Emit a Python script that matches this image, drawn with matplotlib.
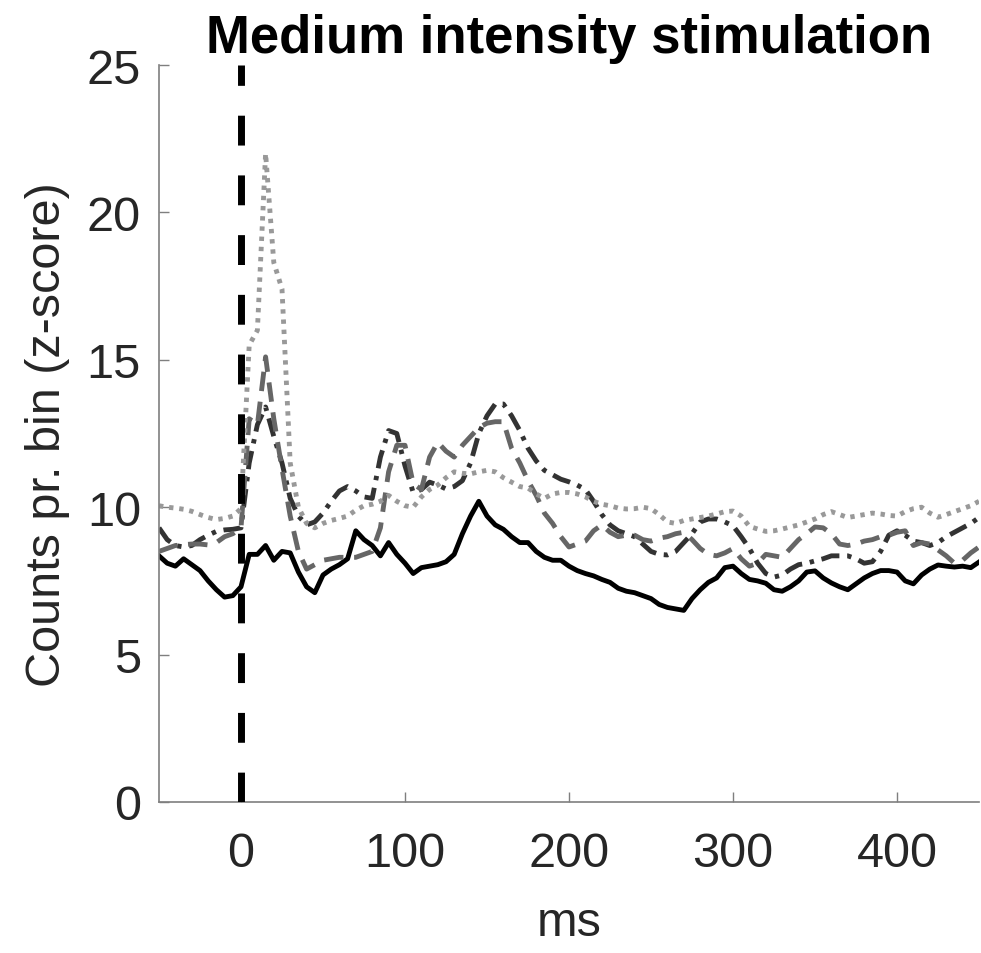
import numpy as np
import matplotlib
matplotlib.use("Agg")
import matplotlib.pyplot as plt

plt.rcParams['font.family'] = ['Liberation Sans', 'DejaVu Sans']

# Time bins (ms), 5 ms bins from -50 to 450
bin_ms = np.arange(-50, 455, 5)

solid_black = [
    8.35, 8.1, 8.0, 8.25, 8.05, 7.85, 7.5, 7.2, 6.95, 7.0,
    7.3, 8.4, 8.4, 8.7, 8.2, 8.5, 8.45, 7.8, 7.3, 7.1,
    7.7, 7.9, 8.05, 8.25, 9.2, 8.9, 8.7, 8.35, 8.8, 8.4,
    8.1, 7.75, 7.95, 8.0, 8.05, 8.15, 8.4, 9.1, 9.7, 10.2,
    9.7, 9.4, 9.25, 9.0, 8.8, 8.8, 8.5, 8.3, 8.2, 8.2,
    8.0, 7.85, 7.75, 7.67, 7.55, 7.45, 7.25, 7.15, 7.1, 7.0,
    6.9, 6.7, 6.6, 6.55, 6.5, 6.9, 7.2, 7.45, 7.6, 7.95,
    8.0, 7.75, 7.55, 7.5, 7.42, 7.2, 7.15, 7.3, 7.5, 7.8,
    7.84, 7.6, 7.43, 7.3, 7.2, 7.4, 7.6, 7.75, 7.85, 7.85,
    7.8, 7.5, 7.4, 7.7, 7.9, 8.04, 8.0, 7.97, 8.0, 7.95,
    8.14,
]

dashdot_dark = [
    9.3, 8.9, 8.7, 8.65, 8.7, 8.9, 9.05, 9.18, 9.23, 9.25,
    9.3, 11.5, 12.8, 13.4, 12.4, 11.5, 10.3, 9.7, 9.4, 9.5,
    9.8, 10.2, 10.55, 10.7, 10.55, 10.35, 10.3, 11.7, 12.6, 12.5,
    11.4, 10.5, 10.6, 10.85, 10.75, 10.62, 10.7, 10.9, 11.5, 12.5,
    13.1, 13.5, 13.5, 13.1, 12.6, 12.0, 11.57, 11.25, 11.1, 10.95,
    10.86, 10.75, 10.6, 10.2, 9.75, 9.4, 9.2, 9.1, 9.0, 8.75,
    8.5, 8.4, 8.38, 8.5, 8.8, 9.1, 9.5, 9.6, 9.6, 9.5,
    9.37, 9.0, 8.6, 8.1, 7.75, 7.63, 7.7, 7.9, 8.05, 8.1,
    8.18, 8.25, 8.35, 8.35, 8.35, 8.25, 8.1, 8.15, 8.5, 9.05,
    9.2, 9.05, 8.85, 8.8, 8.7, 8.8, 9.0, 9.15, 9.3, 9.45,
    9.65,
]

dashed_mid = [
    8.5, 8.6, 8.7, 8.73, 8.75, 8.75, 8.72, 8.8, 9.0, 9.1,
    9.3, 13.0, 12.8, 15.1, 13.0, 11.3, 9.7, 8.5, 7.9, 8.05,
    8.2, 8.25, 8.3, 8.3, 8.3, 8.4, 8.5, 9.3, 11.2, 12.1,
    12.1, 10.8, 10.6, 11.7, 12.2, 11.9, 11.7, 12.1, 12.4, 12.7,
    12.85, 12.9, 12.9, 12.0, 11.5, 10.9, 10.4, 9.8, 9.45, 9.0,
    8.65, 8.75, 8.85, 9.2, 9.4, 9.15, 9.0, 9.05, 9.05, 8.9,
    8.85, 8.95, 9.0, 9.1, 9.15, 8.9, 8.6, 8.4, 8.35, 8.45,
    8.6, 8.25, 8.0, 8.1, 8.4, 8.35, 8.3, 8.6, 8.9, 9.1,
    9.33, 9.3, 9.1, 8.75, 8.7, 8.75, 8.85, 8.9, 9.0, 9.05,
    9.15, 9.2, 8.7, 8.8, 8.75, 8.55, 8.35, 8.1, 8.2, 8.45,
    8.65,
]

dotted_light = [
    10.05, 10.0, 9.97, 9.93, 9.86, 9.75, 9.65, 9.58, 9.62, 9.7,
    9.95, 15.5, 16.0, 22.0, 18.3, 17.4, 11.5, 10.0, 9.45, 9.3,
    9.45, 9.55, 9.62, 9.7, 9.9, 10.05, 10.1, 10.2, 10.4, 10.2,
    10.05, 10.0, 10.35, 10.6, 10.75, 11.0, 11.2, 11.15, 11.13, 11.2,
    11.25, 11.2, 11.0, 10.85, 10.7, 10.65, 10.45, 10.3, 10.45, 10.5,
    10.5, 10.45, 10.35, 10.2, 10.1, 10.05, 9.97, 9.94, 9.95, 10.0,
    9.95, 9.75, 9.5, 9.45, 9.55, 9.6, 9.65, 9.7, 9.77, 9.85,
    9.87, 9.7, 9.35, 9.26, 9.18, 9.2, 9.26, 9.33, 9.4, 9.5,
    9.6, 9.75, 9.85, 9.75, 9.65, 9.7, 9.75, 9.8, 9.77, 9.72,
    9.7, 9.85, 9.95, 10.0, 9.8, 9.66, 9.75, 9.85, 9.95, 10.05,
    10.2,
]

x_ticks = [0, 100, 200, 300, 400]
y_ticks = [0, 5, 10, 15, 20, 25]
title_text = "Medium intensity stimulation"
x_label = "ms"
y_label = "Counts pr. bin (z-score)"

W, H = 981, 954
fig = plt.figure(figsize=(W / 100, H / 100), dpi=100)
ax = fig.add_axes([159 / W, 1 - 803 / H, (979 - 159) / W, (803 - 66) / H])

lw = 3.5
ax.plot(bin_ms, solid_black, color='black', lw=lw)
ax.plot(bin_ms, dashdot_dark, color='#333333', lw=lw, dashes=(3.8, 1.6, 0.9, 1.6))
ax.plot(bin_ms, dashed_mid, color='#666666', lw=lw, dashes=(4.0, 2.2))
ax.plot(bin_ms, dotted_light, color='#999999', lw=lw, dashes=(0.9, 1.2))

# stimulus onset marker
ax.plot([0, 0], [0, 25], color='black', lw=5.0, dashes=(4.3, 4.3), zorder=5)

ax.set_xlim(-50, 450)
ax.set_ylim(0, 25)
ax.set_xticks(x_ticks)
ax.set_yticks(y_ticks)

for s in ['top', 'right']:
    ax.spines[s].set_visible(False)
for s in ['left', 'bottom']:
    ax.spines[s].set_color('#7f7f7f')
    ax.spines[s].set_linewidth(1.2)

ax.tick_params(direction='in', length=7, width=1.0, color='#7f7f7f',
               labelsize=35, labelcolor='#262626')
ax.tick_params(axis='x', pad=21)
ax.tick_params(axis='y', pad=13)

ax.set_xlabel(x_label, fontsize=35, color='#262626', labelpad=17)
ax.set_ylabel(y_label, fontsize=35, color='#262626', labelpad=12)
ax.set_title(title_text, fontsize=38, fontweight='bold', color='black', pad=9)

fig.savefig('out.png', dpi=100)
